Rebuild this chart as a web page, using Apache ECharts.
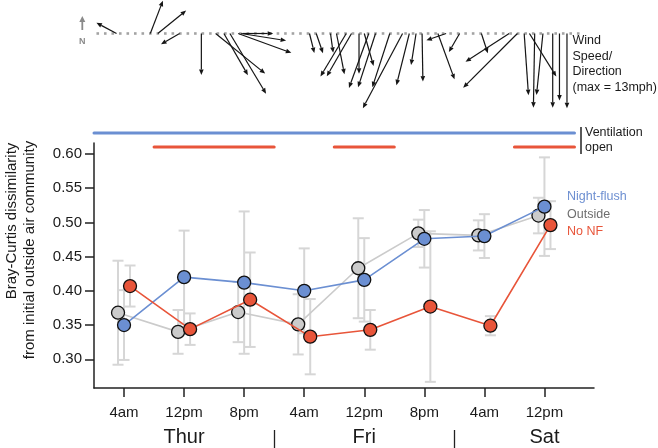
<!DOCTYPE html>
<html><head><meta charset="utf-8">
<script src="https://cdn.jsdelivr.net/npm/echarts@6/dist/echarts.min.js"></script>
<style>html,body{margin:0;padding:0;background:#fff}#c{width:658px;height:448px}</style>
</head><body><div id="c"></div>
<script>
// ---- data ----
const tickHours = [0, 8, 16, 24, 32, 40, 48, 56];           // hours since Thur 4am
const tickLabels = ['4am', '12pm', '8pm', '4am', '12pm', '8pm', '4am', '12pm'];
const dayHours = [8, 32, 56];
const dayLabels = ['Thur', 'Fri', 'Sat'];
const dayBreakHours = [20, 44];
const yTicks = [0.30, 0.35, 0.40, 0.45, 0.50, 0.55, 0.60];

const nightFlush   = [0.350, 0.420, 0.412, 0.400, 0.416, 0.476, 0.480, 0.523];
const nightFlushSD = [0.051, 0.068, 0.104, 0.062, 0.061, 0.042, 0.032, 0.072];
const outside      = [0.368, 0.340, 0.369, 0.351, 0.433, 0.484, 0.481, 0.510];
const outsideSD    = [0.076, 0.032, 0.044, 0.044, 0.073, 0.020, 0.022, 0.026];
const noNF         = [0.407, 0.344, 0.387, 0.333, 0.343, 0.377, 0.349, 0.496];
const noNFSD       = [0.030, 0.023, 0.069, 0.055, 0.029, 0.110, 0.014, 0.035];

// ventilation open periods (hours)
const ventNightFlush = [[-4, 60]];
const ventNoNF = [[4, 20], [28, 36], [52, 60]];

// wind records: hour, speed (mph), direction the arrow points (deg clockwise from N)
const windHour  = [-1.0, 3.5, 4.5, 7.4, 10.3, 12.2, 13.3, 14.1, 15.2, 15.6, 15.8,
                   24.7, 25.6, 27.5, 28.3, 29.6, 30.3, 31.3, 32.0, 32.6, 33.5, 35.4,
                   37.1, 38.0, 38.9, 39.7, 41.8, 42.9, 44.7, 47.6, 51.3, 52.4, 53.3,
                   54.0, 54.7, 55.8, 57.1, 58.0, 59.0];
const windSpeed = [3.5, 5.4, 5.6, 3.3, 6.4, 9.8, 7.4, 10.8, 8.7, 7.0, 4.7,
                   3.1, 3.2, 3.0, 6.4, 7.7, 7.6, 6.2, 5.2, 8.9, 8.7, 8.7,
                   13.0, 8.2, 4.9, 7.4, 7.5, 3.2, 3.3, 3.2, 8.0, 11.8, 9.5,
                   7.8, 11.4, 9.5, 11.4, 10.3, 11.5];
const windDir   = [298, 21, 51, 240, 180, 129, 150, 149, 110, 99, 90,
                   166, 161, 172, 169, 211, 210, 180, 164, 200, 198, 198,
                   208, 194, 189, 179, 160, 251, 210, 162, 237, 225, 176,
                   148, 181, 186, 180, 180, 180];
const windRecordHours = [];
for (let h = -3.5; h <= 60.5; h += 1) windRecordHours.push(h);

// ---- styles ----
const FONT = 'Liberation Sans, Arial, Helvetica, sans-serif';
const C_BLUE = '#6b8fd2', C_RED = '#e8553a', C_GRAY = '#cbcbcb', C_ERR = '#d6d6d6';
const X_MIN = -4, X_MAX = 62.6;
const JIT = { outside: -0.8, nightFlush: 0, noNF: 0.8 };

const chart = echarts.init(document.getElementById('c'), null, { renderer: 'canvas' });

function pts(vals, off) { return tickHours.map((h, i) => [h + off, vals[i]]); }
function errs(vals, sd, off) { return tickHours.map((h, i) => [h + off, vals[i] - sd[i], vals[i] + sd[i]]); }

function errRender(params, api) {
  const lo = api.coord([api.value(0), api.value(1)]);
  const hi = api.coord([api.value(0), api.value(2)]);
  const w = 5.5;
  const st = { stroke: C_ERR, lineWidth: 2 };
  return { type: 'group', children: [
    { type: 'line', shape: { x1: lo[0], y1: lo[1], x2: hi[0], y2: hi[1] }, style: st },
    { type: 'line', shape: { x1: lo[0] - w, y1: lo[1], x2: lo[0] + w, y2: lo[1] }, style: st },
    { type: 'line', shape: { x1: hi[0] - w, y1: hi[1], x2: hi[0] + w, y2: hi[1] }, style: st }
  ]};
}

function windRender(params, api) {
  const p0 = api.coord([api.value(0), 0]);
  const len = api.size([0, api.value(1)])[1];
  const rad = api.value(2) * Math.PI / 180;
  const ux = Math.sin(rad), uy = -Math.cos(rad);
  const p1 = [p0[0] + ux * len, p0[1] + uy * len];
  const hl = 5.5, hw = 2.3;
  const b = [p1[0] - ux * hl, p1[1] - uy * hl];
  const nx = -uy, ny = ux;
  return { type: 'group', children: [
    { type: 'line', shape: { x1: p0[0], y1: p0[1], x2: b[0], y2: b[1] }, style: { stroke: '#151515', lineWidth: 1.2 } },
    { type: 'polygon', shape: { points: [p1, [b[0] + nx * hw, b[1] + ny * hw], [b[0] - nx * hw, b[1] - ny * hw]] }, style: { fill: '#151515' } }
  ]};
}

function ventRender(color) {
  return function (params, api) {
    const a = api.coord([api.value(0), api.value(2)]);
    const b = api.coord([api.value(1), api.value(2)]);
    return { type: 'line', shape: { x1: a[0], y1: a[1], x2: b[0], y2: b[1] },
      style: { stroke: color, lineWidth: 3, lineCap: 'round' } };
  };
}

function lineSeries(name, vals, off, color, z) {
  return {
    name, type: 'line', xAxisIndex: 0, yAxisIndex: 0, z,
    data: pts(vals, off), symbol: 'circle', symbolSize: 13,
    itemStyle: { color, borderColor: '#111', borderWidth: 1.3 },
    lineStyle: { color, width: 1.6 }, emphasis: { disabled: true }, animation: false
  };
}

const option = {
  animation: false,
  textStyle: { fontFamily: FONT },
  grid: [
    { left: 94, right: 64, top: 143, bottom: 60, outerBoundsMode: 'none', containLabel: false },
    { left: 94, right: 64, top: 0, height: 120, outerBoundsMode: 'none', containLabel: false },
    { left: 94, right: 64, top: 126, height: 28, outerBoundsMode: 'none', containLabel: false }
  ],
  xAxis: [
    { type: 'value', gridIndex: 0, min: X_MIN, max: X_MAX, splitLine: { show: false },
      axisLine: { show: true, onZero: false, lineStyle: { color: '#222', width: 1.5 } },
      axisTick: { show: true, customValues: tickHours, length: 9, lineStyle: { color: '#222', width: 1.5 } },
      axisLabel: { customValues: tickHours, margin: 17, fontSize: 15, color: '#1a1a1a', fontFamily: FONT,
        formatter: v => tickLabels[tickHours.indexOf(v)] } },
    { type: 'value', gridIndex: 0, min: X_MIN, max: X_MAX, position: 'bottom', offset: 30, splitLine: { show: false },
      axisLine: { show: false }, axisTick: { show: false },
      axisLabel: { customValues: dayHours, margin: 9, fontSize: 20, color: '#1a1a1a', fontFamily: FONT,
        formatter: v => dayLabels[dayHours.indexOf(v)] } },
    { type: 'value', gridIndex: 0, min: X_MIN, max: X_MAX, position: 'bottom', offset: 42, splitLine: { show: false },
      axisLine: { show: false }, axisLabel: { show: false },
      axisTick: { show: true, customValues: dayBreakHours, length: 18, lineStyle: { color: '#222', width: 1.3 } } },
    { type: 'value', gridIndex: 1, min: X_MIN, max: X_MAX, show: false },
    { type: 'value', gridIndex: 2, min: X_MIN, max: X_MAX, show: false }
  ],
  yAxis: [
    { type: 'value', gridIndex: 0, min: 0.258, max: 0.616, splitLine: { show: false },
      axisLine: { show: true, onZero: false, lineStyle: { color: '#222', width: 1.5 } },
      axisTick: { show: true, customValues: yTicks, length: 9, lineStyle: { color: '#222', width: 1.5 } },
      axisLabel: { customValues: yTicks, margin: 12, fontSize: 15, color: '#1a1a1a', fontFamily: FONT,
        formatter: v => v.toFixed(2) } },
    { type: 'value', gridIndex: 1, min: -13.3, max: 5.15, show: false },
    { type: 'category', gridIndex: 2, data: ['No NF', 'Night-flush'], show: false }
  ],
  series: [
    { type: 'custom', name: 'errOutside', xAxisIndex: 0, yAxisIndex: 0, z: 1, renderItem: errRender,
      data: errs(outside, outsideSD, JIT.outside), silent: true, clip: false },
    { type: 'custom', name: 'errNF', xAxisIndex: 0, yAxisIndex: 0, z: 1, renderItem: errRender,
      data: errs(nightFlush, nightFlushSD, JIT.nightFlush), silent: true, clip: false },
    { type: 'custom', name: 'errNoNF', xAxisIndex: 0, yAxisIndex: 0, z: 1, renderItem: errRender,
      data: errs(noNF, noNFSD, JIT.noNF), silent: true, clip: false },
    lineSeries('Outside', outside, JIT.outside, C_GRAY, 2),
    lineSeries('Night-flush', nightFlush, JIT.nightFlush, C_BLUE, 3),
    lineSeries('No NF', noNF, JIT.noNF, C_RED, 4),
    { type: 'scatter', xAxisIndex: 3, yAxisIndex: 1, symbol: 'rect', symbolSize: 2.6,
      itemStyle: { color: '#8c8c8c' }, data: windRecordHours.map(h => [h, 0]), silent: true, z: 1 },
    { type: 'custom', xAxisIndex: 3, yAxisIndex: 1, renderItem: windRender, clip: false, silent: true, z: 2,
      data: windHour.map((h, i) => [h, windSpeed[i], windDir[i]]) },
    { type: 'custom', xAxisIndex: 4, yAxisIndex: 2, renderItem: ventRender(C_BLUE), clip: false, silent: true,
      data: ventNightFlush.map(p => [p[0], p[1], 'Night-flush']) },
    { type: 'custom', xAxisIndex: 4, yAxisIndex: 2, renderItem: ventRender(C_RED), clip: false, silent: true,
      data: ventNoNF.map(p => [p[0], p[1], 'No NF']) }
  ],
  graphic: [
    { type: 'text', x: 12, y: 221, rotation: Math.PI / 2,
      style: { text: 'Bray-Curtis dissimilarity', font: '15px ' + FONT, fill: '#1a1a1a', align: 'center', verticalAlign: 'middle' } },
    { type: 'text', x: 30, y: 250, rotation: Math.PI / 2,
      style: { text: 'from initial outside air community', font: '15px ' + FONT, fill: '#1a1a1a', align: 'center', verticalAlign: 'middle' } },
    { type: 'text', x: 567, y: 197, style: { text: 'Night-flush', font: '12.5px ' + FONT, fill: '#6d8fd1', verticalAlign: 'middle' } },
    { type: 'text', x: 567, y: 214.5, style: { text: 'Outside', font: '12.5px ' + FONT, fill: '#6e6e6e', verticalAlign: 'middle' } },
    { type: 'text', x: 567, y: 232, style: { text: 'No NF', font: '12.5px ' + FONT, fill: '#e8553a', verticalAlign: 'middle' } },
    { type: 'line', shape: { x1: 581, y1: 127, x2: 581, y2: 154 }, style: { stroke: '#222', lineWidth: 1.5 } },
    { type: 'text', x: 585, y: 133, style: { text: 'Ventilation', font: '12.5px ' + FONT, fill: '#1a1a1a', verticalAlign: 'middle' } },
    { type: 'text', x: 585, y: 148, style: { text: 'open', font: '12.5px ' + FONT, fill: '#1a1a1a', verticalAlign: 'middle' } },
    { type: 'text', x: 572.5, y: 40.5, style: { text: 'Wind', font: '12.5px ' + FONT, fill: '#1a1a1a', verticalAlign: 'middle' } },
    { type: 'text', x: 572.5, y: 56.5, style: { text: 'Speed/', font: '12.5px ' + FONT, fill: '#1a1a1a', verticalAlign: 'middle' } },
    { type: 'text', x: 572.5, y: 72, style: { text: 'Direction', font: '12.5px ' + FONT, fill: '#1a1a1a', verticalAlign: 'middle' } },
    { type: 'text', x: 572.5, y: 87.5, style: { text: '(max = 13mph)', font: '12.5px ' + FONT, fill: '#1a1a1a', verticalAlign: 'middle' } },
    { type: 'line', shape: { x1: 82.3, y1: 30, x2: 82.3, y2: 20 }, style: { stroke: '#8a8a8a', lineWidth: 1.8 } },
    { type: 'polygon', shape: { points: [[82.3, 16], [79.3, 22], [85.3, 22]] }, style: { fill: '#8a8a8a' } },
    { type: 'text', x: 82.3, y: 41.5, style: { text: 'N', font: 'bold 9px ' + FONT, fill: '#8a8a8a', align: 'center', verticalAlign: 'middle' } }
  ]
};
chart.setOption(option);
</script>
</body></html>
